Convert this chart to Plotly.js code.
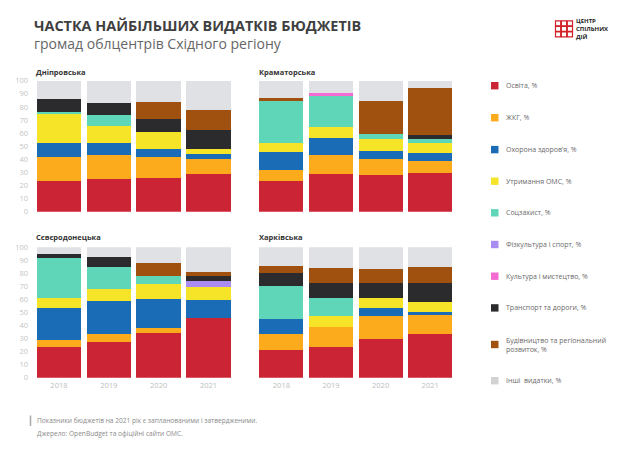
<!DOCTYPE html>
<html>
<head>
<meta charset="utf-8">
<script src="https://cdn.plot.ly/plotly-3.0.1.min.js"></script>
<style>
html,body{margin:0;padding:0;background:#fff;}
#chart{width:640px;height:455px;}
</style>
</head>
<body>
<div id="chart"></div>
<script>
// ---------- DATA ----------
const years = ['2018', '2019', '2020', '2021'];
const cities = ['Дніпровська', 'Краматорська', 'Сєвєродонецька', 'Харківська'];
const seriesNames = [
  'Освіта, %',
  'ЖКГ, %',
  'Охорона здоров\u2019я, %',
  'Утримання ОМС, %',
  'Соцзахист, %',
  'Фізкультура і спорт, %',
  'Культура і мистецтво, %',
  'Транспорт та дороги, %',
  'Будівництво та регіональний<br>розвиток, %',
  'Інші  видатки, %'
];
const seriesColors = ['#cb2435', '#fbab1c', '#1b6cb6', '#f6e428', '#5fd6b7',
                      '#a98cf2', '#f36bd1', '#2b2b2d', '#a0500f', '#dfe1e4'];
const legendColors = ['#cb2435', '#fbab1c', '#1b6cb6', '#f6e428', '#5fd6b7',
                      '#a98cf2', '#f36bd1', '#2b2b2d', '#a0500f', '#d2d2d2'];

// rows follow seriesNames order, columns follow years
const dnipro = [
  [23.7, 25.2, 26.0, 28.5],
  [17.8, 18.1, 15.5, 11.7],
  [10.9,  9.4,  6.3,  4.1],
  [22.2, 12.9, 12.8,  3.5],
  [ 1.7,  7.9,  0,    0  ],
  [ 0,    0,    0,    0  ],
  [ 0,    0,    0,    0  ],
  [ 9.5,  9.2,  9.9, 14.5],
  [ 0,    0,   13.2, 15.3],
  [14.2, 17.3, 16.3, 22.4]
];
const kramatorsk = [
  [23.2, 29.0, 28.2, 29.3],
  [ 8.9, 14.5, 11.7,  9.6],
  [13.2, 13.0,  6.2,  6.1],
  [ 6.9,  8.4,  9.1,  7.2],
  [32.5, 23.6,  3.8,  3.0],
  [ 0,    0,    0,    0  ],
  [ 0,    1.8,  0,    0  ],
  [ 0,    0,    0,    3.1],
  [ 2.1,  0,   25.5, 36.1],
  [13.2,  9.7, 15.5,  5.6]
];
const sievierodonetsk = [
  [23.5, 27.6, 34.0, 45.5],
  [ 5.4,  5.6,  4.1,  0  ],
  [24.6, 25.6, 22.3, 13.8],
  [ 7.6,  9.2, 11.5, 10.3],
  [30.7, 17.2,  6.1,  0  ],
  [ 0,    0,    0,    4.3],
  [ 0,    0,    0,    0  ],
  [ 3.1,  7.1,  0,    3.8],
  [ 0,    0,    9.7,  3.4],
  [ 5.1,  7.7, 12.3, 18.9]
];
const kharkiv = [
  [21.1, 23.9, 29.3, 33.3],
  [12.7, 14.8, 17.8, 14.5],
  [11.5,  0,    6.1,  2.6],
  [ 0,    8.4,  7.6,  7.9],
  [24.7, 13.7,  0,    0  ],
  [ 0,    0,    0,    0  ],
  [ 0,    0,    0,    0  ],
  [10.4, 11.7, 11.5, 14.7],
  [ 5.4, 11.5, 11.4, 11.7],
  [14.2, 16.0, 16.3, 15.3]
];
const yTicks = [0, 10, 20, 30, 40, 50, 60, 70, 80, 90, 100];
const footnotes = [
  'Показники бюджетів на 2021 рік є запланованими і затвердженими.',
  'Джерело: OpenBudget та офіційні сайти ОМС.'
];

// ---------- BUILD ----------
const W = 640, H = 455;
const px = x => x / W;
const py = y => 1 - y / H;
const FONT = 'Open Sans, Noto Sans, sans-serif';

const cityData = [dnipro, kramatorsk, sievierodonetsk, kharkiv];
const axisIds = ['', '2', '3', '4'];

const traces = [];
cityData.forEach((cd, c) => {
  cd.forEach((vals, s) => {
    traces.push({
      type: 'bar',
      x: years,
      y: vals,
      name: seriesNames[s],
      marker: {color: seriesColors[s], line: {width: 0}},
      xaxis: 'x' + axisIds[c],
      yaxis: 'y' + axisIds[c],
      showlegend: false,
      hoverinfo: 'x+y+name'
    });
  });
});

const xDomL = [px(34), px(233.4)];
const xDomR = [px(256.6), px(455)];
const yDomT = [py(211.7), py(80.7)];
const yDomB = [py(377.7), py(247.3)];

function xa(domain, anchor, showLabels) {
  return {
    domain: domain, anchor: anchor, type: 'category',
    showgrid: false, zeroline: false, showline: false, ticks: '',
    showticklabels: showLabels,
    tickfont: {family: FONT, size: 7.5, color: '#bdbdbd'},
    ticklabelstandoff: 2,
    fixedrange: true
  };
}
function ya(domain, anchor, showLabels) {
  return {
    domain: domain, anchor: anchor, range: [0, 100],
    tickvals: yTicks, showgrid: false, zeroline: false, showline: false, ticks: '',
    showticklabels: showLabels,
    tickfont: {family: FONT, size: 7.5, color: '#c4c4c4'},
    ticklabelstandoff: 5,
    fixedrange: true
  };
}

const annotations = [];
const shapes = [];

// titles
annotations.push({xref: 'paper', yref: 'paper', x: px(32), y: py(25), xanchor: 'left', yanchor: 'middle',
  text: '<b>ЧАСТКА НАЙБІЛЬШИХ ВИДАТКІВ БЮДЖЕТІВ</b>', showarrow: false,
  font: {family: FONT, size: 14.4, color: '#3f3f41'}});
annotations.push({xref: 'paper', yref: 'paper', x: px(32), y: py(43.6), xanchor: 'left', yanchor: 'middle',
  text: 'громад облцентрів Східного регіону', showarrow: false,
  font: {family: FONT, size: 14, color: '#666666'}});

// panel titles
const panelTitlePos = [[34, 72], [257, 72], [34, 237], [257, 237]];
cities.forEach((name, i) => {
  annotations.push({xref: 'paper', yref: 'paper', x: px(panelTitlePos[i][0]), y: py(panelTitlePos[i][1]),
    xanchor: 'left', yanchor: 'middle', text: '<b>' + name + '</b>', showarrow: false,
    font: {family: FONT, size: 7.5, color: '#333333'}});
});

// legend (custom)
const legendRowY = [85.7, 117.7, 149.6, 181.2, 212.8, 244.5, 276.2, 307.9, 344.5, 380.7];
seriesNames.forEach((name, i) => {
  const yc = legendRowY[i];
  shapes.push({type: 'rect', xref: 'paper', yref: 'paper',
    x0: px(491), x1: px(498.5), y0: py(yc + 3.7), y1: py(yc - 3.7),
    fillcolor: legendColors[i], line: {width: 0}});
  annotations.push({xref: 'paper', yref: 'paper', x: px(503.5), y: py(yc), xanchor: 'left', yanchor: 'middle',
    align: 'left', text: name, showarrow: false,
    font: {family: FONT, size: 7, color: '#6a6a6a'}});
});

// footer
shapes.push({type: 'line', xref: 'paper', yref: 'paper', x0: px(30.5), x1: px(30.5), y0: py(415.5), y1: py(426),
  line: {color: '#a8a8a8', width: 1.5}});
annotations.push({xref: 'paper', yref: 'paper', x: px(34.5), y: py(420.5), xanchor: 'left', yanchor: 'middle',
  text: footnotes[0], showarrow: false, font: {family: FONT, size: 6.6, color: '#8a8a8a'}});
annotations.push({xref: 'paper', yref: 'paper', x: px(34.5), y: py(433.5), xanchor: 'left', yanchor: 'middle',
  text: footnotes[1], showarrow: false, font: {family: FONT, size: 6.6, color: '#8a8a8a'}});

// logo (icon made of red outlined cells + text)
const lx0 = 555.5, ly0 = 20.8, cw = 5.2, ch = 5.0;
for (let r = 0; r < 3; r++) {
  for (let k = 0; k < 3; k++) {
    shapes.push({type: 'rect', xref: 'paper', yref: 'paper',
      x0: px(lx0 + k * (cw + 0.7)), x1: px(lx0 + k * (cw + 0.7) + cw),
      y0: py(ly0 + r * (ch + 0.5) + ch), y1: py(ly0 + r * (ch + 0.5)),
      fillcolor: 'rgba(0,0,0,0)', line: {color: '#d2232a', width: 1.2}});
  }
}
annotations.push({xref: 'paper', yref: 'paper', x: px(573.5), y: py(29), xanchor: 'left', yanchor: 'middle',
  align: 'left', text: '<b>ЦЕНТР<br>СПІЛЬНИХ<br>ДІЙ</b>', showarrow: false,
  font: {family: FONT, size: 6, color: '#222222'}});

const layout = {
  width: W, height: H,
  margin: {l: 0, r: 0, t: 0, b: 0},
  paper_bgcolor: '#ffffff', plot_bgcolor: '#ffffff',
  barmode: 'stack', bargap: 0.11,
  showlegend: false,
  font: {family: FONT},
  xaxis: xa(xDomL, 'y', false),
  yaxis: ya(yDomT, 'x', true),
  xaxis2: xa(xDomR, 'y2', false),
  yaxis2: ya(yDomT, 'x2', false),
  xaxis3: xa(xDomL, 'y3', true),
  yaxis3: ya(yDomB, 'x3', true),
  xaxis4: xa(xDomR, 'y4', true),
  yaxis4: ya(yDomB, 'x4', false),
  annotations: annotations,
  shapes: shapes
};

Plotly.newPlot('chart', traces, layout, {displayModeBar: false, staticPlot: true});
</script>
</body>
</html>
